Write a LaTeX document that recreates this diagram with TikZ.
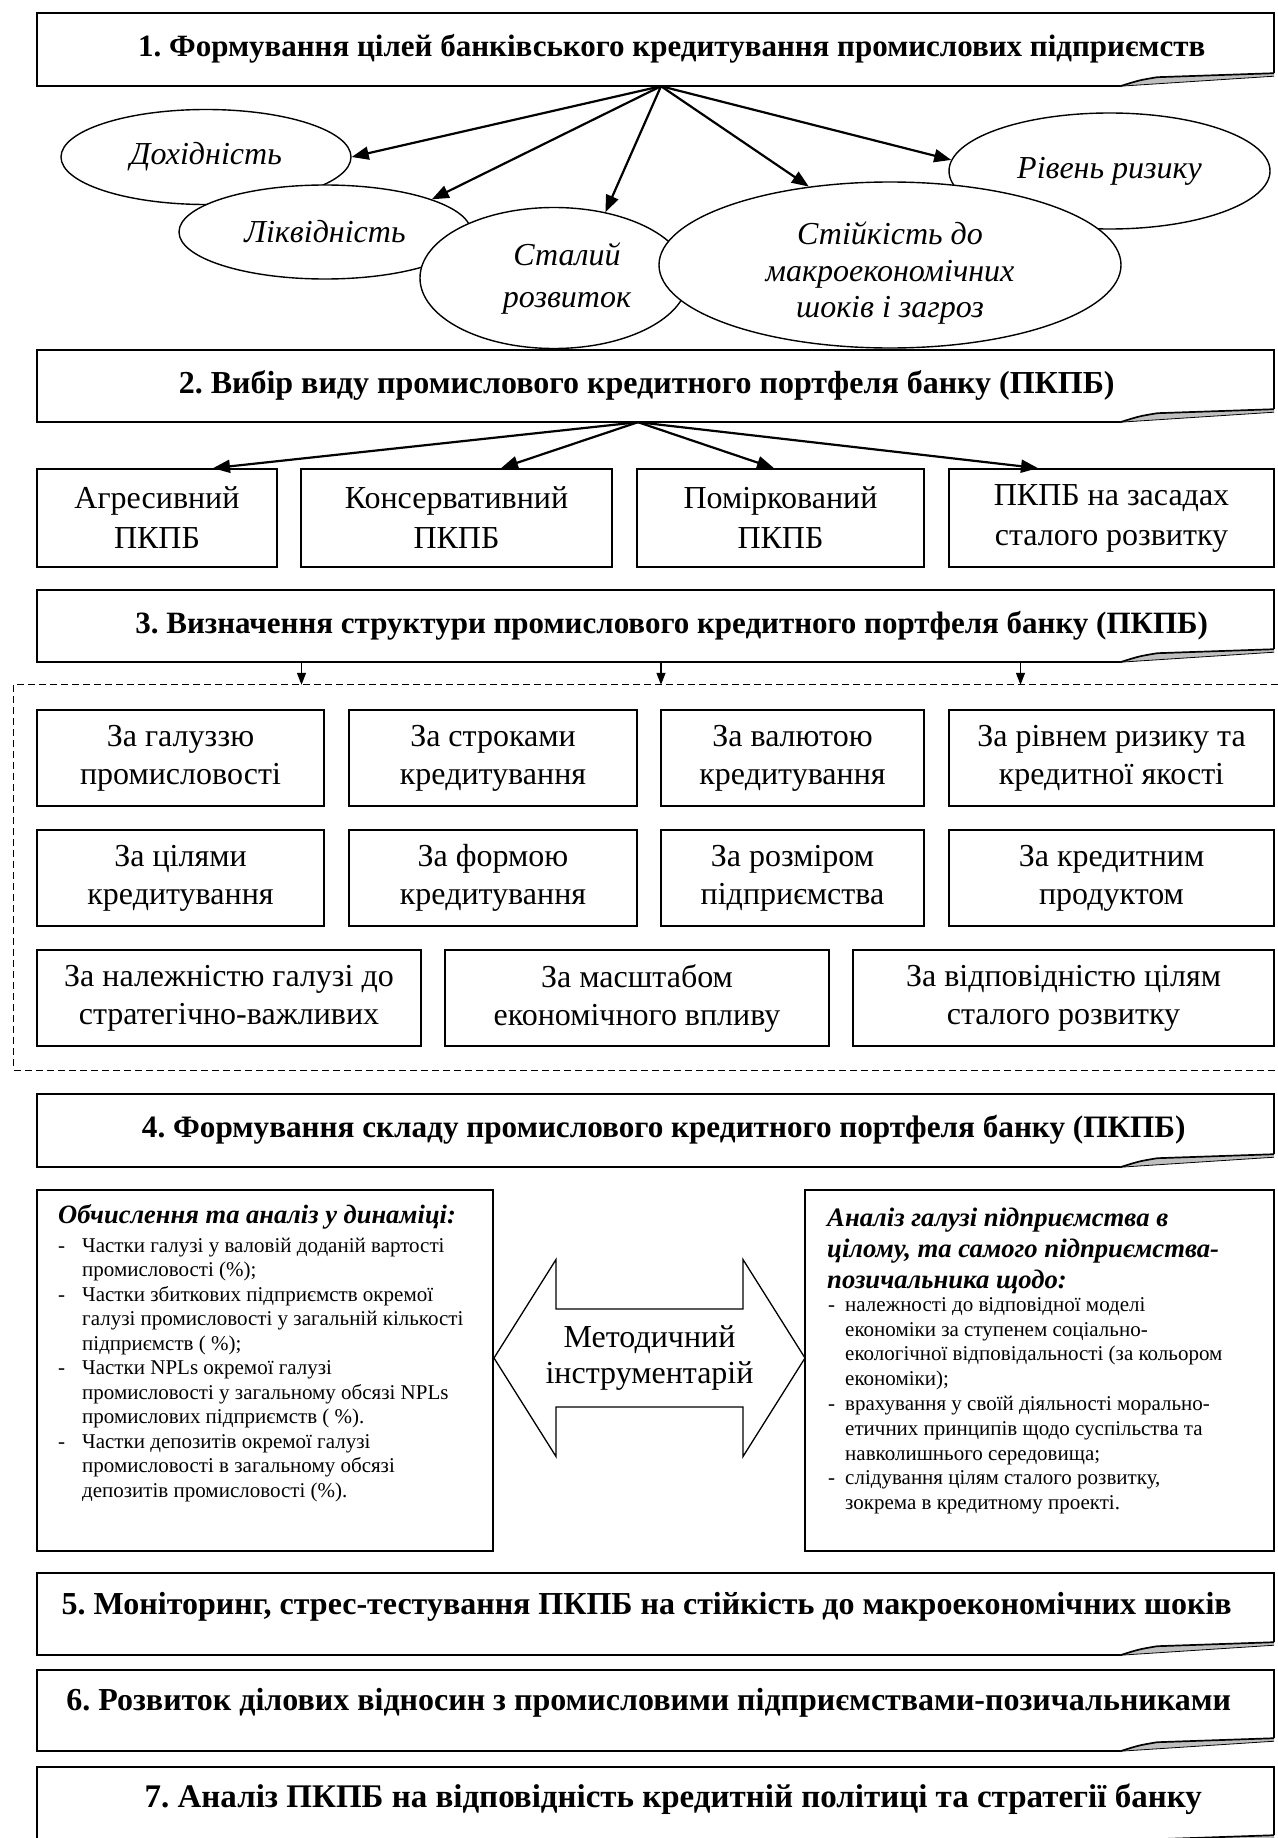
\documentclass[tikz,border=0pt]{standalone}
\usepackage{fontspec}
\setmainfont{Liberation Serif}
\usetikzlibrary{arrows.meta,calc,shapes.geometric}
\AtBeginDocument{\frenchspacing}

\newcommand{\foldbox}[1]{%
  \fill[gray!50] ($(#1.south east)+(-154,0)$) .. controls ($(#1.south east)+(-135,-6)$) .. ($(#1.south east)+(-117,-9)$) -- ($(#1.south east)+(0,-13)$) -- ($(#1.south east)+(0,-10)$) -- cycle;
  \draw[boxline] ($(#1.south east)+(-154,0)$) -- (#1.south west) -- (#1.north west) -- (#1.north east) -- ($(#1.south east)+(0,-13)$);
  \draw[boxline] ($(#1.south east)+(-154,0)$) .. controls ($(#1.south east)+(-135,-6)$) .. ($(#1.south east)+(-117,-9)$) -- ($(#1.south east)+(0,-13)$);
  \draw[line width=0.8pt] ($(#1.south east)+(-154,0)$) -- ($(#1.south east)+(0,-10)$);
}
\newcommand{\tfs}[1]{\fontsize{#1}{#1}\selectfont\bfseries}

\begin{document}
\begin{tikzpicture}[x=1pt,y=-1pt,
  boxline/.style={line width=1.7pt, line join=miter},
  tnode/.style={inner sep=0pt, minimum width=1236.5pt, text height=22pt, text depth=7.5pt},
  tnodeup/.style={tnode, text depth=21.5pt},
  pbox/.style={draw, line width=1.7pt, inner sep=2pt, align=center, font=\fontsize{32}{38}\selectfont},
  abox/.style={pbox, font=\fontsize{32}{40}\selectfont},
  ell/.style={ellipse, draw, line width=1.4pt, fill=white, inner sep=0pt, align=center, font=\fontsize{32}{36.5}\selectfont\itshape},
  elltext/.style={inner sep=0pt, align=center, font=\fontsize{32}{36.5}\selectfont\itshape},
  bigarr/.style={line width=2.2pt, -{Triangle[length=17pt,width=13pt]}},
  smallarr/.style={line width=1.2pt, -{Triangle[length=12pt,width=9pt]}},
  txtbox/.style={draw, line width=1.5pt, inner sep=0pt},
  dashframe/.style={line width=1.3pt, dash pattern=on 7pt off 4pt},
]
\fill[white] (0,0) rectangle (1277,1838);
\path[use as bounding box] (0,0) rectangle (1277,1838);

% ---- 1
\node[tnode, minimum height=73pt, font=\tfs{31}] (t1) at (655.75,49.5) {\hspace*{32pt}1. Формування цілей банківського кредитування промислових підприємств};
\foldbox{t1}

\node[ell, minimum width=290pt, minimum height=95pt] (dox) at (206,157) {Дохідність};
\node[ell, minimum width=292pt, minimum height=94pt] (liq) at (325,232) {Ліквідність};
\node[ell, minimum width=268pt, minimum height=141pt] (stal) at (554,278) {};
\node[elltext, font=\fontsize{32}{42}\selectfont\itshape] (stalt) at (567,279) {Сталий\\розвиток};
\node[ell, minimum width=321pt, minimum height=116pt] (riv) at (1109.5,171) {Рівень ризику};
\node[ell, minimum width=462pt, minimum height=166pt] (stiy) at (890,265) {};
\node[elltext] (stiyt) at (890,273.5) {Стійкість до\\макроекономічних\\шоків і загроз};

\coordinate (o1) at ([xshift=5.25pt]t1.south);
\draw[bigarr] (o1) -- (dox.east);
\draw[bigarr] (o1) -- (liq.17);
\draw[bigarr] (o1) -- (stal.52);
\draw[bigarr] (o1) -- (stiy.136);
\draw[bigarr] (o1) -- (riv.176);

% ---- 2
\node[tnode, minimum height=72pt, font=\tfs{32}] (t2) at (655.75,386) {2. Вибір виду промислового кредитного портфеля банку (ПКПБ)\hspace*{18pt}};
\foldbox{t2}

\node[abox, minimum width=240pt, minimum height=98pt] (a1) at (157,518) {Агресивний\\ПКПБ};
\node[abox, minimum width=311pt, minimum height=98pt] (a2) at (456.5,518) {Консервативний\\ПКПБ};
\node[abox, minimum width=287pt, minimum height=98pt] (a3) at (780.5,518) {Поміркований\\ПКПБ};
\node[abox, minimum width=325pt, minimum height=98pt] (a4) at (1111.5,518) {ПКПБ на засадах\\сталого розвитку};

\coordinate (o2) at ([xshift=-17.75pt]t2.south);
\draw[bigarr] (o2) -- ([xshift=56pt]a1.north);
\draw[bigarr] (o2) -- ([xshift=44.5pt]a2.north);
\draw[bigarr] (o2) -- ([xshift=-6.5pt]a3.north);
\draw[bigarr] (o2) -- ([xshift=-73.5pt]a4.north);

% ---- 3
\node[tnode, minimum height=72pt, font=\tfs{31}] (t3) at (655.75,626) {\hspace*{32pt}3. Визначення структури промислового кредитного портфеля банку (ПКПБ)};
\foldbox{t3}

\node[minimum width=1286pt, minimum height=385pt, inner sep=0pt] (fr) at (657,877.5) {};
\draw[dashframe] (fr.north east) -- (fr.north west) -- (fr.south west) -- (fr.south east);

\draw[smallarr] ([xshift=-354.25pt]t3.south) -- ([xshift=-354.25pt]t3.south |- fr.north);
\draw[smallarr] ([xshift=5.25pt]t3.south) -- ([xshift=5.25pt]t3.south |- fr.north);
\draw[smallarr] ([xshift=364.75pt]t3.south) -- ([xshift=364.75pt]t3.south |- fr.north);

\node[pbox, minimum width=287pt, minimum height=96pt] (s1) at (180.5,758) {За галуззю\\промисловості};
\node[pbox, minimum width=288pt, minimum height=96pt] (s2) at (493,758) {За строками\\кредитування};
\node[pbox, minimum width=263pt, minimum height=96pt] (s3) at (792.5,758) {За валютою\\кредитування};
\node[pbox, minimum width=325pt, minimum height=96pt] (s4) at (1111.5,758) {За рівнем ризику та\\кредитної якості};

\node[pbox, minimum width=287pt, minimum height=96pt] (s5) at (180.5,878) {За цілями\\кредитування};
\node[pbox, minimum width=288pt, minimum height=96pt] (s6) at (493,878) {За формою\\кредитування};
\node[pbox, minimum width=263pt, minimum height=96pt] (s7) at (792.5,878) {За розміром\\підприємства};
\node[pbox, minimum width=325pt, minimum height=96pt] (s8) at (1111.5,878) {За кредитним\\продуктом};

\node[pbox, minimum width=384pt, minimum height=96pt] (s9) at (229,998) {За належністю галузі до\\стратегічно-важливих};
\node[pbox, minimum width=384pt, minimum height=96pt] (s10) at (637,998) {За масштабом\\економічного впливу};
\node[pbox, minimum width=421pt, minimum height=96pt] (s11) at (1063.5,998) {За відповідністю цілям\\сталого розвитку};

% ---- 4
\node[tnode, minimum height=73pt, font=\tfs{31.2}] (t4) at (655.75,1130.5) {\hspace*{16pt}4. Формування складу промислового кредитного портфеля банку (ПКПБ)};
\foldbox{t4}

\node[txtbox, minimum width=456pt, minimum height=361pt] (lb) at (265,1370.5) {};
\node[txtbox, minimum width=469pt, minimum height=361pt] (rb) at (1039.5,1370.5) {};

\node[font=\fontsize{32}{36}\selectfont, align=center, inner sep=0pt] (met) at (649.5,1358) {Методичний\\інструментарій};
\draw[line width=1.3pt, line join=miter, shift={(met)}] (-155.5,0) -- (-93.5,-98.5) -- (-93.5,-49) -- (93.5,-49) -- (93.5,-98.5) -- (155.5,0) -- (93.5,98.5) -- (93.5,49) -- (-93.5,49) -- (-93.5,98.5) -- cycle;

\node[anchor=base west, inner sep=0pt, font=\fontsize{26.5}{28}\selectfont\bfseries\itshape] (lh) at (58,1223) {Обчислення та аналіз у динаміці:};
\node[anchor=north west, inner sep=0pt, align=left, font=\fontsize{21}{24.5}\selectfont] (lbt) at (58,1235.2) {%
\rule{0pt}{16.8pt}\makebox[24pt][l]{-}Частки галузі у валовій доданій вартості\\
\hspace*{24pt}промисловості (\%);\\
\makebox[24pt][l]{-}Частки збиткових підприємств окремої\\
\hspace*{24pt}галузі промисловості у загальній кількості\\
\hspace*{24pt}підприємств ( \%);\\
\makebox[24pt][l]{-}Частки NPLs окремої галузі\\
\hspace*{24pt}промисловості у загальному обсязі NPLs\\
\hspace*{24pt}промислових підприємств ( \%).\\
\makebox[24pt][l]{-}Частки депозитів окремої галузі\\
\hspace*{24pt}промисловості в загальному обсязі\\
\hspace*{24pt}депозитів промисловості (\%).};

\node[anchor=north west, inner sep=0pt, align=left, font=\fontsize{26.7}{31}\selectfont\bfseries\itshape] (rh) at (827,1205) {%
\rule{0pt}{21.4pt}Аналіз галузі підприємства в\\
цілому, та самого підприємства-\\
позичальника щодо:};
\node[anchor=north west, inner sep=0pt, align=left, font=\fontsize{21}{24.8}\selectfont] (rbt) at (828,1294.2) {%
\rule{0pt}{16.8pt}\makebox[17pt][l]{-}належності до відповідної моделі\\
\hspace*{17pt}економіки за ступенем соціально-\\
\hspace*{17pt}екологічної відповідальності (за кольором\\
\hspace*{17pt}економіки);\\
\makebox[17pt][l]{-}врахування у своїй діяльності морально-\\
\hspace*{17pt}етичних принципів щодо суспільства та\\
\hspace*{17pt}навколишнього середовища;\\
\makebox[17pt][l]{-}слідування цілям сталого розвитку,\\
\hspace*{17pt}зокрема в кредитному проекті.};

% ---- 5-7
\node[tnodeup, minimum height=82pt, font=\tfs{32}] (t5) at (655.75,1614) {5. Моніторинг, стрес-тестування ПКПБ на стійкість до макроекономічних шоків\hspace*{18pt}};
\foldbox{t5}
\node[tnodeup, minimum height=81pt, font=\tfs{32}] (t6) at (655.75,1710.5) {6. Розвиток ділових відносин з промисловими підприємствами-позичальниками\hspace*{14pt}};
\foldbox{t6}
\node[tnodeup, minimum height=81pt, font=\tfs{33}] (t7) at (655.75,1807.5) {\hspace*{35pt}7. Аналіз ПКПБ на відповідність кредитній політиці та стратегії банку};
\foldbox{t7}
\end{tikzpicture}
\end{document}
